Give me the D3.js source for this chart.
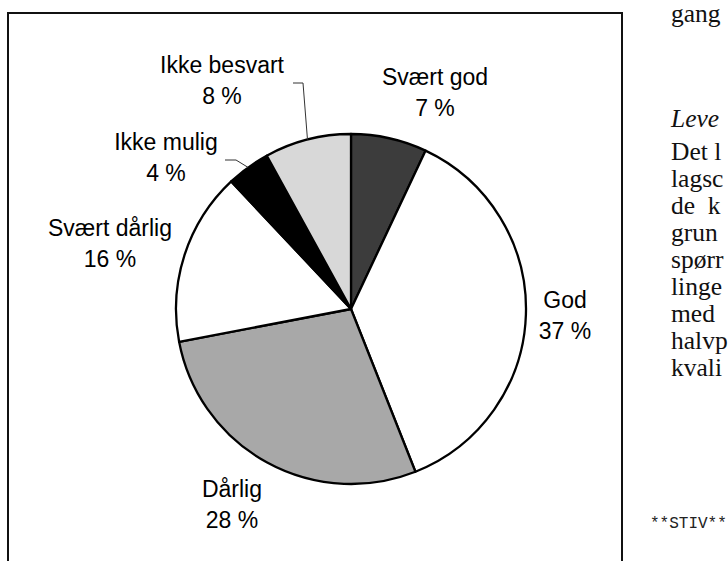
<!DOCTYPE html>
<html><head><meta charset="utf-8">
<script src="https://cdn.jsdelivr.net/npm/d3@7"></script>
<style>
html,body{margin:0;padding:0;background:#fff;overflow:hidden;}
svg{display:block;}
</style></head>
<body>
<svg id="chart" width="728" height="561"></svg>
<script>
// ---- data ----
const categories = ["Svært god", "God", "Dårlig", "Svært dårlig", "Ikke mulig", "Ikke besvart"];
const values = [7, 37, 28, 16, 4, 8];
const valueLabels = ["7 %", "37 %", "28 %", "16 %", "4 %", "8 %"];
const fills = ["#3c3c3c", "#ffffff", "#a8a8a8", "#ffffff", "#000000", "#d8d8d8"];
// label anchor positions (centre x, first-line baseline y)
const labelX = [435, 565, 232, 110, 166, 222];
const labelY = [85, 308, 497, 236, 150, 73];
// leader lines start (for small slices)
const leaderFrom = {4: [[225,160],[236,160]], 5: [[293,83],[303,83]]};
// surrounding document text (right column, clipped by the page edge)
const sideText = ["gang", "Leve", "Det l", "lagsc", "de  k", "grun", "spørr", "linge", "med", "halvp", "kvali"];
const sideY = [22, 127, 160, 187, 214, 241, 268, 295, 322, 349, 376];

const svg = d3.select("#chart");
// frame
svg.append("path")
  .attr("d", "M8,561 L8,13 L622,13 L622,561")
  .attr("fill", "none").attr("stroke", "#111").attr("stroke-width", 2);

const cx = 351, cy = 309, r = 175;
const g = svg.append("g").attr("transform", `translate(${cx},${cy})`);
const pie = d3.pie().sort(null).value(d => d)(values);
const arc = d3.arc().innerRadius(0).outerRadius(r);
const edge = d3.arc().innerRadius(r).outerRadius(r);

g.selectAll("path.slice").data(pie).join("path")
  .attr("class", "slice")
  .attr("d", arc)
  .attr("fill", (d, i) => fills[i])
  .attr("stroke", "#000").attr("stroke-width", 2.3).attr("stroke-linejoin", "round");

// leader lines
Object.keys(leaderFrom).forEach(k => {
  const i = +k;
  const c = edge.centroid(pie[i]);
  const pts = leaderFrom[k].concat([[c[0] + cx, c[1] + cy]]);
  svg.append("path")
    .attr("d", d3.line()(pts))
    .attr("fill", "none").attr("stroke", "#333").attr("stroke-width", 1);
});

// labels
const lab = svg.append("g")
  .attr("font-family", "'Liberation Sans', Arial, Helvetica, sans-serif")
  .attr("font-size", 23).attr("fill", "#000").attr("text-anchor", "middle");
categories.forEach((c, i) => {
  lab.append("text").attr("x", labelX[i]).attr("y", labelY[i]).text(c);
  lab.append("text").attr("x", labelX[i]).attr("y", labelY[i] + 31).text(valueLabels[i]);
});

// side text
const side = svg.append("g")
  .attr("font-family", "'Liberation Serif', 'Times New Roman', serif")
  .attr("font-size", 25.5).attr("fill", "#111");
sideText.forEach((t, i) => {
  side.append("text").attr("x", 671).attr("y", sideY[i])
    .attr("font-style", i === 1 ? "italic" : "normal")
    .attr("xml:space", "preserve")
    .style("white-space", "pre")
    .text(t);
});
svg.append("text").attr("x", 650).attr("y", 528)
  .attr("font-family", "'Liberation Mono', 'Courier New', monospace")
  .attr("font-size", 16).attr("fill", "#222").text("**STIV**");
</script>
</body></html>
